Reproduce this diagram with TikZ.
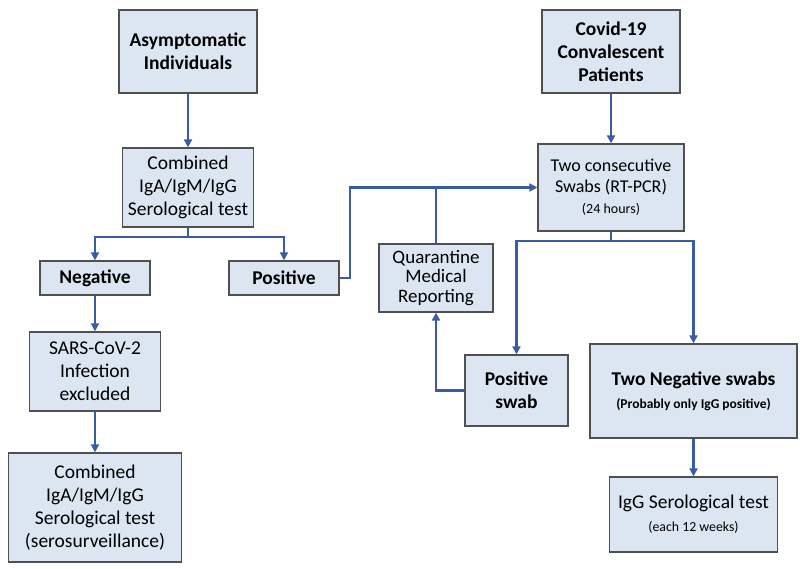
\documentclass[tikz,border=0pt]{standalone}
\usepackage{fontspec}
\setmainfont{Carlito}
\usetikzlibrary{arrows.meta}
\definecolor{boxfill}{HTML}{DCE5F2}
\definecolor{boxline}{HTML}{505050}
\definecolor{arr}{HTML}{3A5CA5}
\tikzset{
  box/.style={draw=boxline, fill=boxfill, line width=1.3pt, inner sep=0pt, align=center,
    font=\fontsize{19.5}{23}\selectfont},
  boldbox/.style={box, font=\fontsize{19.5}{23}\selectfont\bfseries},
  conn/.style={draw=arr, line width=2.3pt},
  arrow/.style={conn, -{Triangle[width=8pt,length=8pt]}}
}
\begin{document}
\begin{tikzpicture}[x=1pt,y=-1pt]
\useasboundingbox (0,0) rectangle (800,569);
% left column
\node[boldbox, minimum width=138pt, minimum height=83pt] (asym) at (188,51.5) {Asymptomatic\\Individuals};
\node[box, minimum width=131pt, minimum height=79pt] (comb1) at (188,187.5) {Combined\\IgA/IgM/IgG\\Serological test};
\node[boldbox, minimum width=110pt, minimum height=34pt] (neg) at (95,278) {Negative};
\node[boldbox, minimum width=110pt, minimum height=34pt] (pos) at (284,278) {Positive};
\node[box, minimum width=131pt, minimum height=79pt] (sars) at (95,371.5) {SARS-CoV-2\\Infection\\excluded};
\node[box, minimum width=173pt, minimum height=109pt] (comb2) at (95,507.5) {Combined\\IgA/IgM/IgG\\Serological test\\(serosurveillance)};
% right column
\node[boldbox, minimum width=138pt, minimum height=83pt] (covid) at (611,51.5) {Covid-19\\Convalescent\\Patients};
\node[box, minimum width=146pt, minimum height=87pt, font=\fontsize{18}{21}\selectfont] (two) at (611,187.5) {Two consecutive\\Swabs (RT-PCR)\\{\fontsize{14}{18}\selectfont (24 hours)}};
\node[box, minimum width=114pt, minimum height=68pt, font=\fontsize{19}{19.5}\selectfont] (quar) at (436,278) {Quarantine\\Medical\\Reporting};
\node[boldbox, minimum width=103pt, minimum height=71pt] (pswab) at (516.5,390.5) {Positive\\swab};
\node[boldbox, minimum width=207pt, minimum height=94pt] (twoneg) at (693.5,391) {Two Negative swabs\\{\fontsize{13.5}{19}\selectfont (Probably only IgG positive)}};
\node[box, minimum width=168pt, minimum height=75pt] (igg) at (693.5,514.5) {IgG Serological test\\{\fontsize{13.8}{19}\selectfont (each 12 weeks)}};
% connectors left
\draw[arrow] (asym) -- (comb1);
\coordinate (j1) at (188,237);
\draw[conn] (comb1.south) -- (j1);
\draw[arrow] (j1) -| (neg.north);
\draw[arrow] (j1) -| (pos.north);
\draw[arrow] (neg) -- (sars);
\draw[arrow] (sars) -- (comb2);
% positive to swabs
\draw[arrow] (pos.east) -- ++(10,0) |- (two.west);
\coordinate (j2) at (quar.north |- two.west);
\draw[conn] (j2) -- (quar.north);
% right
\draw[arrow] (covid) -- (two);
\coordinate (j3) at (611,241);
\draw[conn] (two.south) -- (j3);
\draw[arrow] (j3) -| (pswab.north);
\draw[arrow] (j3) -| (twoneg.north);
\draw[arrow] (pswab.west) -| (quar.south);
\draw[arrow] (twoneg) -- (igg);
\end{tikzpicture}
\end{document}
